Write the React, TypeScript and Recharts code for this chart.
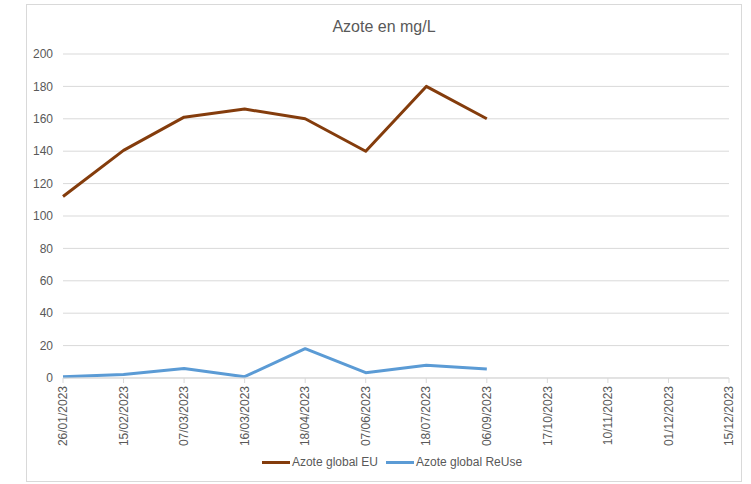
import React from "react";
import { LineChart, Line, XAxis, YAxis, CartesianGrid } from "recharts";

const categories = [
  "26/01/2023", "15/02/2023", "07/03/2023", "16/03/2023", "18/04/2023", "07/06/2023",
  "18/07/2023", "06/09/2023", "17/10/2023", "10/11/2023", "01/12/2023", "15/12/2023",
];
const azoteEU: (number | null)[] = [112, 140.5, 161, 166, 160, 140, 180, 160, null, null, null, null];
const azoteReUse: (number | null)[] = [0.7, 2.2, 5.8, 0.8, 18.1, 3.3, 7.8, 5.5, null, null, null, null];
const yTicks = [0, 20, 40, 60, 80, 100, 120, 140, 160, 180, 200];

const series = [
  { key: "eu", name: "Azote global EU", color: "#843C0C" },
  { key: "reuse", name: "Azote global ReUse", color: "#5B9BD5" },
];

const data = categories.map((date, i) => ({ date, eu: azoteEU[i], reuse: azoteReUse[i] }));

const TEXT = "#595959";
const GRID = "#d9d9d9";

const XTick = (props: any) => {
  const { x, y, payload } = props;
  return (
    <g transform={`translate(${x},${y})`}>
      <text
        transform="rotate(-90)"
        x={-1}
        y={0}
        dy="0.35em"
        textAnchor="end"
        fill={TEXT}
        fontSize={12}
      >
        {payload.value}
      </text>
    </g>
  );
};

export default function App() {
  return (
    <div
      style={{
        position: "absolute",
        left: 0,
        top: 0,
        width: 751,
        height: 484,
        background: "#fff",
        fontFamily: "'Liberation Sans', Arial, sans-serif",
      }}
    >
      <div
        style={{
          position: "absolute",
          left: 26,
          top: 4,
          width: 716,
          height: 478,
          border: `1px solid ${GRID}`,
          boxSizing: "border-box",
        }}
      />
      <div
        style={{
          position: "absolute",
          left: 26,
          width: 716,
          top: 18,
          textAlign: "center",
          fontSize: 16,
          color: TEXT,
        }}
      >
        Azote en mg/L
      </div>
      <div style={{ position: "absolute", left: 0, top: 0 }}>
        <LineChart
          width={751}
          height={484}
          data={data}
          margin={{ top: 54, right: 22, left: 23, bottom: 36 }}
        >
          <CartesianGrid vertical={false} stroke={GRID} strokeWidth={1} />
          <XAxis
            dataKey="date"
            interval={0}
            height={70}
            tick={<XTick />}
            tickSize={5}
            tickLine={{ stroke: GRID }}
            axisLine={{ stroke: GRID }}
          />
          <YAxis
            domain={[0, 200]}
            ticks={yTicks}
            width={40}
            axisLine={false}
            tickLine={false}
            tickMargin={4}
            tick={{ fill: TEXT, fontSize: 12 }}
          />
          {series.map((s) => (
            <Line
              key={s.key}
              dataKey={s.key}
              name={s.name}
              stroke={s.color}
              strokeWidth={3}
              dot={false}
              type="linear"
              strokeLinejoin="round"
              isAnimationActive={false}
            />
          ))}
        </LineChart>
      </div>
      <div
        style={{
          position: "absolute",
          left: 34,
          width: 716,
          top: 455,
          display: "flex",
          justifyContent: "center",
          fontSize: 12,
          color: TEXT,
        }}
      >
        {series.map((s, i) => (
          <div key={s.key} style={{ display: "flex", alignItems: "center", marginLeft: i ? 8 : 0 }}>
            <div style={{ width: 28, height: 3, background: s.color, marginRight: 2 }} />
            <span>{s.name}</span>
          </div>
        ))}
      </div>
    </div>
  );
}
